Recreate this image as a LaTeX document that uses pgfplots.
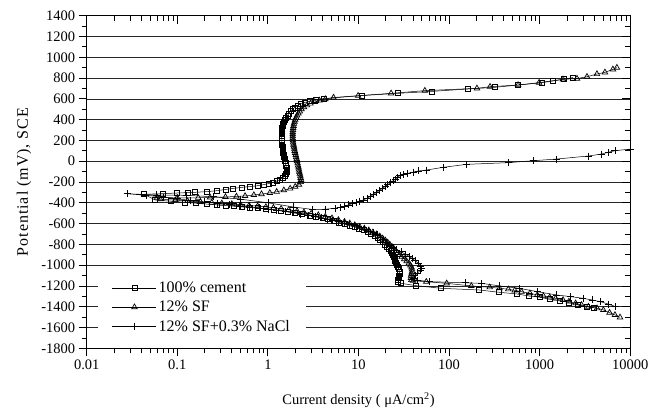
\documentclass[border=0pt]{standalone}
\usepackage{pgfplots}
\pgfplotsset{compat=1.18}
\usepackage{fontspec}
\setmainfont{Liberation Serif}
\begin{document}
\begin{tikzpicture}
\path[use as bounding box] (-86.7bp,-59.7bp) rectangle (574.3bp,348.3bp);
\begin{axis}[
  at={(0,0)}, anchor=south west, scale only axis,
  width=543.6bp, height=332.6bp,
  xmode=log, xmin=0.01, xmax=10000, ymin=-1800, ymax=1400,
  xtick={0.01,0.1,1,10,100,1000,10000},
  xticklabels={0.01,0.1,1,10,100,1000,10000},
  minor xtick={0.02,0.03,0.04,0.05,0.06,0.07,0.08,0.09,0.2,0.3,0.4,0.5,0.6,0.7,0.8,0.9,2,3,4,5,6,7,8,9,20,30,40,50,60,70,80,90,200,300,400,500,600,700,800,900,2000,3000,4000,5000,6000,7000,8000,9000},
  ytick={-1800,-1600,...,1400},
  minor ytick={-1700,-1500,...,1300},
  xtick pos=bottom, ytick pos=left,
  tick align=outside,
  major tick length=8bp, minor tick length=5bp,
  every tick/.style={black, line width=0.8bp},
  axis line style={line width=1bp},
  ymajorgrids, grid style={black!85, line width=0.6bp},
  /pgf/number format/assume math mode=true,
  /pgf/number format/1000 sep={},
  tick label style={font=\fontsize{14.5bp}{17bp}\selectfont},
  xlabel={Current density ( μA/cm\textsuperscript{2})},
  ylabel={Potential (mV), SCE},
  every axis x label/.style={at={(axis description cs:0.5,-0.1554)}, anchor=center,
    font=\fontsize{14.5bp}{17bp}\selectfont},
  every axis y label/.style={at={(axis description cs:-0.1153,0.5)}, anchor=center, rotate=90,
    font=\fontsize{16bp}{19bp}\selectfont\addfontfeatures{LetterSpace=6}},
  legend style={at={(0.0208,0.031)}, anchor=south west, draw=none, fill=white,
    font=\fontsize{16bp}{19bp}\selectfont, inner xsep=14bp, inner ysep=3bp, row sep=3bp,
    cells={anchor=west}},
  legend image code/.code={\draw[mark repeat=2,mark phase=2,#1] plot coordinates {(0bp,0bp) (22bp,0bp) (44bp,0bp)};},
  every axis plot/.append style={black, line width=0.5bp, mark options={solid, fill=white, line width=0.7bp}},
]
\addplot[mark=square, mark size=2.5bp] table {
4000 -1410
3300 -1399
2670 -1383
2100 -1360
1670 -1340
1300 -1329
1007 -1309
768 -1297
557 -1277
358 -1261
215 -1239
82 -1223
43 -1197
29.6 -1175
27.5 -1159
27.2 -1140
27.6 -1120
28.2 -1100
28.5 -1080
28.3 -1060
27.8 -1040
27.2 -1020
26.6 -1000
26.0 -980
25.5 -960
25.0 -940
24.5 -920
24.0 -900
23.3 -880
22.5 -860
21.6 -840
20.6 -820
19.6 -800
18.5 -780
17.4 -760
16.3 -740
15.0 -720
13.8 -700
12.6 -682
11.4 -665
10.2 -648
9.1 -633
8.0 -620
7.0 -605
6.1 -590
5.3 -572
4.6 -558
4.0 -546
3.4 -533
2.9 -521
2.4 -509
2.0 -497
1.65 -486
1.4 -476
1.15 -467
0.95 -459
0.78 -452
0.64 -446
0.52 -440
0.42 -433
0.34 -426
0.27 -419
0.21 -412
0.16 -404
0.12 -396
0.085 -385
0.057 -373
0.043 -318
0.07 -312
0.098 -306
0.13 -302
0.157 -299
0.21 -293
0.27 -284
0.34 -272
0.41 -262
0.51 -252
0.63 -244
0.78 -235
0.9 -225
1.02 -215
1.14 -204
1.26 -190
1.37 -175
1.46 -158
1.53 -140
1.58 -120
1.6 -100
1.61 -80
1.6 -60
1.58 -40
1.56 -20
1.54 0
1.52 20
1.5 40
1.49 60
1.48 80
1.47 100
1.46 120
1.45 140
1.44 160
1.43 180
1.43 200
1.42 220
1.42 240
1.42 260
1.42 280
1.43 300
1.44 320
1.46 340
1.48 360
1.5 380
1.53 400
1.58 420
1.64 440
1.71 460
1.78 480
1.87 500
1.98 518
2.12 535
2.3 550
2.55 565
2.9 578
3.4 591
4.1 602
11 632
27.3 653
64.8 672
162 695
321 711
577 733
1062 756
1403 772
1870 790
2333 805
};
\addlegendentry{100\% cement}
\addplot[mark=triangle, mark size=3.2bp] table {
7700 -1502
6770 -1479
5900 -1457
5040 -1431
4300 -1415
3450 -1399
2900 -1383
2490 -1367
2100 -1350
1810 -1335
1500 -1320
1290 -1309
1100 -1297
940 -1287
780 -1270
630 -1255
530 -1243
450 -1232
360 -1222
281 -1213
176 -1200
94 -1175
56 -1159
40 -1150
38.3 -1143
38 -1122
38 -1102
38.5 -1082
39 -1062
39 -1042
38.5 -1022
37.5 -1002
36 -982
34 -962
32 -942
30 -922
28.5 -902
27 -882
25.8 -862
24.6 -842
23.4 -822
22.2 -802
21 -782
19.8 -762
18.5 -742
17.2 -722
15.8 -703
14.4 -684
13 -665
11.6 -647
10.3 -630
9.1 -614
8.0 -598
7.0 -582
6.0 -565
5.1 -548
4.3 -533
3.6 -518
3.0 -504
2.5 -491
2.1 -479
1.7 -467
1.4 -457
1.15 -448
0.95 -440
0.77 -433
0.62 -426
0.5 -419
0.4 -412
0.31 -405
0.24 -398
0.18 -391
0.13 -383
0.095 -375
0.065 -365
0.06 -350
0.1 -352
0.17 -352
0.23 -348
0.34 -344
0.45 -339
0.56 -334
0.7 -325
0.85 -316
1.05 -305
1.25 -294
1.5 -279
1.76 -263
2.0 -245
2.2 -225
2.3 -200
2.32 -180
2.3 -160
2.28 -140
2.25 -120
2.22 -100
2.2 -80
2.18 -60
2.15 -40
2.13 -20
2.1 0
2.08 20
2.05 40
2.03 60
2.0 80
1.98 100
1.96 120
1.94 140
1.92 160
1.9 180
1.89 200
1.88 220
1.88 240
1.88 260
1.88 280
1.89 300
1.9 320
1.92 340
1.94 360
1.97 380
2.0 400
2.05 420
2.1 440
2.17 460
2.25 480
2.35 500
2.5 520
2.7 538
2.95 555
3.3 570
3.7 585
4.3 598
5.3 613
9.9 630
22.9 653
54 679
203 701
283 717
577 733
984 756
1808 788
2582 795
3327 813
4285 839
5250 855
6430 884
7110 900
};
\addlegendentry{12\% SF}
\addplot[mark=+, mark size=3.5bp] table {
6900 -1399
5700 -1374
4700 -1352
3800 -1335
3000 -1319
2200 -1303
1540 -1287
940 -1255
600 -1223
362 -1200
228 -1175
150 -1169
61 -1159
45 -1145
41 -1126
42 -1100
45 -1075
48 -1050
50 -1030
48 -1010
45.6 -982
42 -955
39 -935
36.8 -919
33 -895
29.5 -872
26.5 -854
24 -830
22 -805
20.5 -780
19 -755
17.5 -730
16 -708
14.5 -688
13 -670
11.5 -652
10.2 -636
9 -621
7.9 -607
6.9 -594
6 -581
5.2 -569
4.5 -557
3.9 -545
3.3 -533
2.8 -521
2.3 -508
1.9 -496
1.55 -484
1.25 -472
1.0 -461
0.8 -450
0.63 -440
0.5 -430
0.38 -418
0.28 -405
0.2 -392
0.14 -377
0.1 -362
0.07 -345
0.045 -328
0.028 -313
0.059 -325
0.127 -328
0.25 -342
0.5 -365
1.0 -400
1.9 -440
3.1 -464
4.3 -462
5.5 -453
6.3 -443
7.0 -432
7.8 -420
8.6 -408
9.5 -395
10.3 -384
11.3 -373
12.5 -355
13.4 -341
14.5 -322
15.7 -302
17 -282
18.3 -262
19.7 -243
21 -225
22.5 -207
24 -189
25.5 -172
27 -155
28.7 -138
31 -128
34.9 -117
40 -105
45.6 -94
56 -85
86 -59
156 -30
450 -14
849 5
1542 21
3436 50
4830 69
5710 86
6770 101
10000 117
};
\addlegendentry{12\% SF+0.3\% NaCl}
\end{axis}
\begin{axis}[
  at={(0,0)}, anchor=south west, scale only axis,
  width=543.6bp, height=332.6bp,
  xmode=log, xmin=0.01, xmax=10000, ymin=-1800, ymax=1400,
  xtick={0.01,0.1,1,10,100,1000,10000},
  minor xtick={0.02,0.03,0.04,0.05,0.06,0.07,0.08,0.09,0.2,0.3,0.4,0.5,0.6,0.7,0.8,0.9,2,3,4,5,6,7,8,9,20,30,40,50,60,70,80,90,200,300,400,500,600,700,800,900,2000,3000,4000,5000,6000,7000,8000,9000},
  ytick={-1800,-1600,...,1400},
  minor ytick={-1700,-1500,...,1300},
  xticklabels={}, yticklabels={},
  xtick pos=top, ytick pos=right,
  tick align=inside,
  major tick length=8bp, minor tick length=5bp,
  every tick/.style={black, line width=0.8bp},
  axis line style={line width=1bp},
]
\end{axis}
\end{tikzpicture}
\end{document}
